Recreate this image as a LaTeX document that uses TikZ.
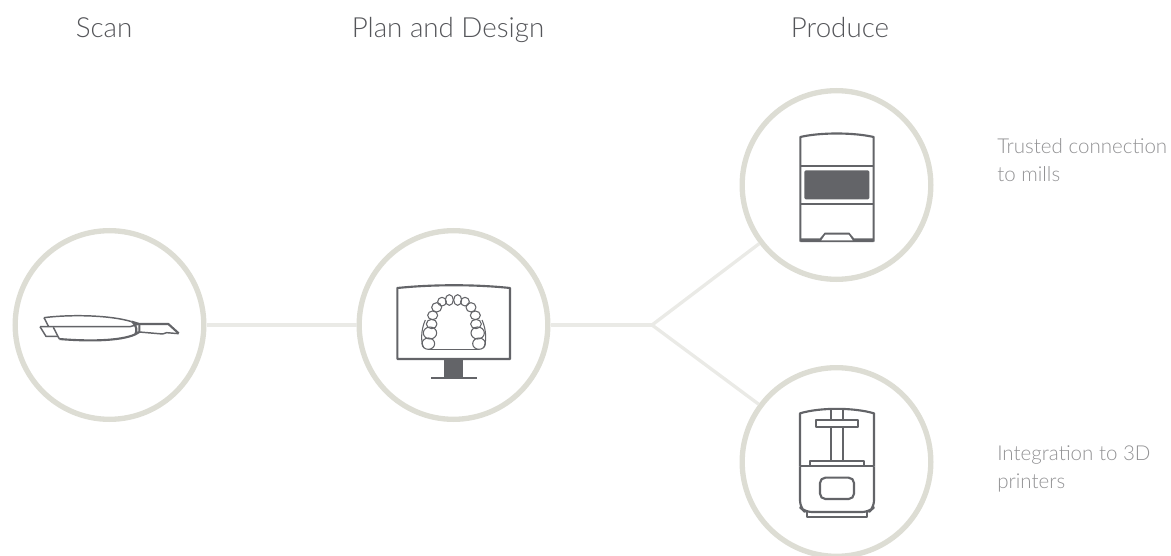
\documentclass[tikz,border=0pt]{standalone}
\usepackage{fontspec}
\setmainfont{Lato Light}
\definecolor{ringc}{HTML}{DDDDD4}
\definecolor{linkc}{HTML}{EAEAE6}
\definecolor{iconc}{HTML}{636468}
\definecolor{headc}{HTML}{55565A}
\definecolor{notec}{HTML}{929294}
\tikzset{
  ring/.style={circle,draw=ringc,line width=4pt,fill=white,minimum size=141.5pt,inner sep=0pt},
  link/.style={draw=linkc,line width=2.5pt},
  head/.style={text=headc,font=\fontsize{20.8pt}{24pt}\selectfont,anchor=base,inner sep=0pt},
  note/.style={text=notec,font=\fontsize{15.4pt}{21pt}\selectfont,anchor=north west,align=left,inner sep=0pt},
  ico/.style={draw=iconc,line width=1.1pt,line join=round},
  icothick/.style={draw=iconc,line width=1.6pt,line join=round},
  solid ico/.style={fill=iconc,draw=none},
  zoomed/.style={x=.25pt,y=-.25pt}
}
\begin{document}
\begin{tikzpicture}[x=.75pt,y=-.75pt]
\useasboundingbox (0,0) rectangle (1171,556);
\clip (0,0) rectangle (1171,556);
\coordinate (fork) at (652,325);
\node[ring] (scan) at (109.5,325) {};
\node[ring] (plan) at (453.5,325) {};
\node[ring] (mill) at (836.5,185) {};
\node[ring] (printer) at (836.5,462) {};
\draw[link] (scan) -- (plan);
\draw[link] (plan) -- (fork);
\draw[link] (fork) -- (mill);
\draw[link] (fork) -- (printer);
\node[head] (t1) at (104,38) {Scan};
\node[head] (t2) at (448,38) {Plan and Design};
\node[head] (t3) at (840,38) {Produce};
\node[note] (n1) at (997,138.5) {Trusted connection\\to mills};
\node[note] (n2) at (997,445.5) {Integration to 3D\\printers};
% scanner
\begin{scope}[shift={(20,310)},zoomed]
\draw[ico] (72,23) .. controls (150,13) and (270,15) .. (335,35);
\draw[ico] (72,23) -- (86,50);
\draw[ico] (60,50) -- (330,50) -- (358,42);
\draw[ico] (60,50) -- (78,79) -- (114,79);
\draw[ico] (100,52) -- (118,87);
\draw[ico] (358,66) -- (428,72) -- (440,68) -- (476,71);
\draw[icothick] (335,35) -- (358,42) -- (445,42) -- (476,70);
\draw[icothick] (338,36) .. controls (350,50) and (352,60) .. (346,73) -- (358,66) -- (358,42);
\draw[icothick] (118,87) .. controls (200,94) and (300,94) .. (346,73);
\end{scope}
% monitor
\begin{scope}[shift={(380,250)},zoomed]
\draw[icothick] (52,114) .. controls (160,103) and (285,103) .. (390,114) -- (390,327) -- (52,327) -- cycle;
\fill[solid ico] (193,327) rectangle (250,380);
\fill[solid ico] (153,380) rectangle (290,386);
\begin{scope}[ico,line width=.8pt]
\foreach \cx/\cy/\rx/\ry in {145/281/19/17,150/249/20/18,155/222/16/14,158/196/15/13,170/172/15/14,186/155/13/13,208/150/12/16,233/150/12/16,255/155/13/13,273/172/15/14,286/196/15/13,288/222/16/14,293/249/20/18,297/281/19/17}
  \draw (\cx,\cy) ellipse [x radius=\rx,y radius=\ry];
\draw (145,298) -- (297,298);
\draw (136,210) .. controls (122,240) and (122,280) .. (132,294);
\draw (306,210) .. controls (320,240) and (320,280) .. (310,294);
\end{scope}
\end{scope}
% mill
\begin{scope}[shift={(780,90)},zoomed]
\draw[icothick] (61,455) -- (61,141) .. controls (120,127) and (220,127) .. (281,141) -- (281,455);
\draw[icothick] (61,229) -- (281,229);
\draw[icothick] (61,341) -- (281,341);
\fill[solid ico,rounded corners=1pt] (73,241) rectangle (268,328);
\fill[solid ico] (61,445) -- (120,445) -- (134,428) -- (208,428) -- (222,445) -- (281,445) -- (281,456) -- (61,456) -- cycle;
\fill[white] (124,451) -- (136,434) -- (206,434) -- (218,451) -- cycle;
\end{scope}
% printer
\begin{scope}[shift={(780,390)},zoomed]
\draw[icothick] (60,229) -- (60,70) .. controls (120,52) and (220,52) .. (282,70) -- (282,229);
\draw[icothick,rounded corners=5pt] (60,229) -- (60,352) -- (75,366) -- (267,366) -- (282,352) -- (282,229);
\draw[icothick] (60,229) -- (282,229);
\draw[icothick] (108,90) rectangle (234,111);
\draw[icothick] (152,58) -- (152,90) (188,58) -- (188,90);
\draw[icothick] (152,111) -- (152,214) (188,111) -- (188,214);
\draw[icothick] (90,229) -- (90,214) -- (252,214) -- (252,229);
\draw[icothick,rounded corners=4pt] (120,263) rectangle (222,327);
\draw[icothick] (82,366) -- (82,380) -- (260,380) -- (260,366);
\end{scope}
\end{tikzpicture}
\end{document}
